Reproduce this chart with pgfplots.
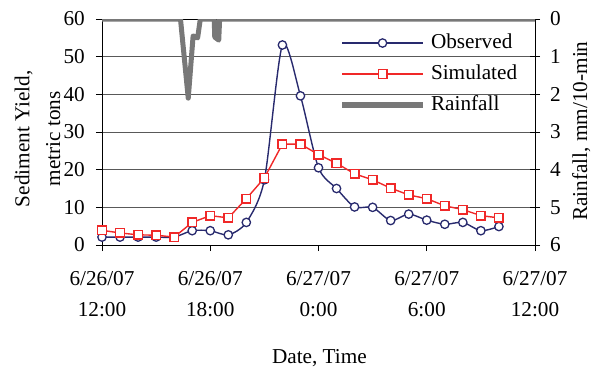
\documentclass[border=0pt]{standalone}
\usepackage{pgfplots}
\pgfplotsset{compat=1.18}
\usepackage{fontspec}
\setmainfont{Liberation Serif}
\definecolor{obs}{RGB}{40,42,110}
\definecolor{sim}{RGB}{240,40,40}
\definecolor{rain}{RGB}{120,120,120}
\newcommand{\fs}{\fontsize{21.3}{31}\selectfont}
\begin{document}
\begin{tikzpicture}
\useasboundingbox (-102bp,-125bp) rectangle (497bp,245bp);
\begin{axis}[
  scale only axis, width=433bp, height=226bp,
  xmin=0, xmax=24, ymin=0, ymax=60,
  xtick={0,6,12,18,24},
  xticklabels={6/26/07\\12:00, 6/26/07\\18:00, 6/27/07\\0:00, 6/27/07\\6:00, 6/27/07\\12:00},
  ytick={0,10,...,60},
  xtick pos=bottom, ytick pos=left,
  tick align=outside, major tick length=6bp,
  tick style={black, line width=0.8bp},
  axis line style={black, line width=0.9bp},
  ymajorgrids, grid style={black!65, line width=0.9bp},
  /pgf/number format/assume math mode=true,
  ticklabel style={font=\fs},
  xticklabel style={align=center, anchor=north, inner sep=0pt, yshift=-20bp},
  yticklabel style={anchor=east, inner sep=0pt, xshift=-11bp},
  label style={font=\fs},
  xlabel={Date, Time},
  xlabel style={at={(rel axis cs:0.502,-0.5)}, anchor=center, inner sep=0pt},
  ylabel={Sediment Yield,\\metric tons},
  ylabel style={align=center, at={(rel axis cs:-0.149,0.47)}, anchor=center, inner sep=0pt},
  legend style={draw=none, fill=none, at={(rel axis cs:0.547,0.941)}, anchor=north west,
    inner sep=0pt, font=\fs, row sep=10bp, column sep=5bp,
    nodes={inner sep=0pt, text height=16bp, text depth=5bp}},
  legend cell align=left,
  legend image code/.code={\draw[mark repeat=2,mark phase=2,#1] plot coordinates {(0bp,0bp) (40.5bp,0bp) (81bp,0bp)};},
]
\addplot[obs, line width=1.4bp, smooth, tension=0.45, mark=*, mark size=4.2bp,
  mark options={fill=white, draw=obs, line width=1.3bp, solid}] coordinates {
(0,2.1) (1,2.1) (2,2.1) (3,2.1) (4,2.1) (5,3.8) (6,3.8) (7,2.7) (8,6.0) (9,17.3)
(10,53.1) (11,39.6) (12,20.5) (13,15.0) (14,10.1) (15,10.0) (16,6.5) (17,8.2)
(18,6.6) (19,5.5) (20,6.0) (21,3.8) (22,4.9)};
\addlegendentry{Observed}
\addplot[sim, line width=1.4bp, mark=square*, mark size=4.3bp,
  mark options={fill=white, draw=sim, line width=1.5bp, solid}] coordinates {
(0,3.9) (1,3.2) (2,2.7) (3,2.6) (4,2.1) (5,6.0) (6,7.8) (7,7.2) (8,12.3) (9,17.8)
(10,26.8) (11,26.8) (12,24.0) (13,21.7) (14,18.9) (15,17.3) (16,15.1) (17,13.3)
(18,12.3) (19,10.4) (20,9.4) (21,7.8) (22,7.2)};
\addlegendentry{Simulated}
\addlegendimage{rain, line width=6bp}
\addlegendentry{Rainfall}
\end{axis}
\begin{axis}[
  scale only axis, width=433bp, height=226bp,
  xmin=0, xmax=24, ymin=0, ymax=6, y dir=reverse,
  axis x line=none, axis y line*=right,
  ytick={0,1,...,6},
  tick align=center, major tick length=10bp,
  tick style={black, line width=0.8bp},
  axis line style={black, line width=0.9bp},
  /pgf/number format/assume math mode=true,
  ticklabel style={font=\fs},
  yticklabel style={anchor=west, inner sep=0pt, xshift=10bp},
  ylabel={Rainfall, mm/10-min},
  ylabel style={font=\fs, at={(rel axis cs:1.107,0.504)}, anchor=center, inner sep=0pt, rotate=0},
]
\addplot[rain, line width=5bp, line join=round] coordinates {
(0,0) (4.35,0) (4.78,2.1) (5.05,0.45) (5.3,0.5) (5.45,0)
(6.22,0) (6.25,0.48) (6.47,0.56) (6.52,0) (24,0)};
\end{axis}
\end{tikzpicture}
\end{document}
